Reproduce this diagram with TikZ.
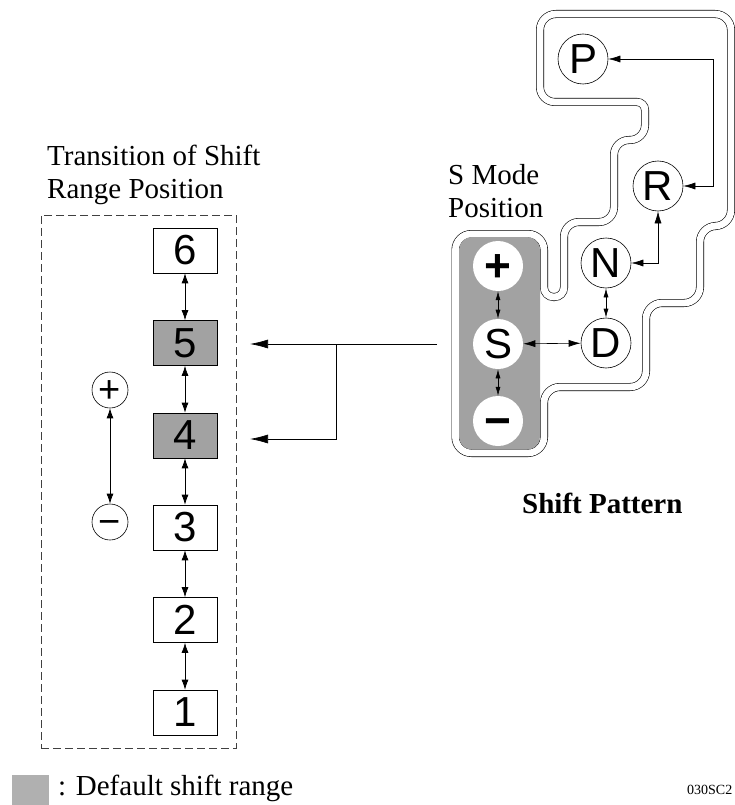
\documentclass[tikz,border=0pt]{standalone}
\usepackage{fontspec}
\setmainfont{Liberation Serif}
\newfontfamily\glyphfont{Liberation Sans}
\usetikzlibrary{arrows.meta}
\definecolor{stipple}{HTML}{A2A2A2}
\newcommand{\plusglyph}{\raisebox{-0.34em}[0pt][0pt]{+}}
\newcommand{\minusglyph}{\raisebox{-0.34em}[0pt][0pt]{\char"2212}}
\tikzset{
  x=1pt,y=-1pt,
  rangebox/.style={draw=black,line width=0.6pt,fill=white,minimum width=64pt,minimum height=45pt,inner sep=0pt,font=\glyphfont\fontsize{42}{42}\selectfont},
  graybox/.style={rangebox,fill=stipple},
  bigpos/.style={circle,draw=black,line width=0.6pt,fill=white,minimum size=50pt,inner sep=0pt,font=\glyphfont\fontsize{42}{42}\selectfont},
  signbig/.style={circle,draw=none,fill=white,minimum size=50pt,inner sep=0pt,font=\glyphfont\bfseries\fontsize{46}{46}\selectfont},
  smallpos/.style={circle,draw=black,line width=0.6pt,fill=white,minimum size=36pt,inner sep=0pt,font=\glyphfont\fontsize{38}{38}\selectfont},
  dbl/.style={{Latex[length=10pt,width=7pt]}-{Latex[length=10pt,width=7pt]},line width=0.7pt},
  dblfine/.style={{Latex[length=9pt,width=5pt]}-{Latex[length=9pt,width=5pt]},line width=0.6pt},
  patarrow/.style={{Latex[length=12pt,width=7pt]}-{Latex[length=12pt,width=7pt]},line width=0.6pt},
  longarrow/.style={-{Latex[length=18pt,width=9pt]},line width=0.7pt},
  caption/.style={inner sep=0pt,anchor=base west,font=\fontsize{29}{31}\selectfont},
  track/.style={draw=black,line width=0.6pt,double=white,double distance=6.8pt}
}
\begin{document}
\begin{tikzpicture}
\useasboundingbox (0,0) rectangle (734,805);
% captions
\node[caption] (t1) at (47,166) {Transition of Shift};
\node[caption] (t2) at (47,198) {Range Position};
\node[caption] (t3) at (448,185) {S Mode};
\node[caption] (t4) at (448,217) {Position};
\node[caption,font=\bfseries\fontsize{29}{31}\selectfont] (t5) at (522,513) {Shift Pattern};
\node[caption] (t6) at (58,795) {: Default shift range};
\node[caption,font=\fontsize{14}{16}\selectfont] (t7) at (687,794) {030SC2};
% legend swatch
\node[fill=stipple!85!white,minimum width=37pt,minimum height=30pt,inner sep=0pt] (swatch) at (30.5,790) {};
% dashed frame
\node[draw=black!75,line width=0.9pt,dash pattern=on 8pt off 4pt,minimum width=195pt,minimum height=533pt,inner sep=0pt] (frame) at (138.5,481.5) {};
% range boxes
\node[rangebox] (b6) at (185,250.5) {6};
\node[graybox] (b5) at (185,343) {5};
\node[graybox] (b4) at (185,435.5) {4};
\node[rangebox] (b3) at (185,527.5) {3};
\node[rangebox] (b2) at (185,620) {2};
\node[rangebox] (b1) at (185,712.5) {1};
\draw[dbl] (b6) -- (b5);
\draw[dbl] (b5) -- (b4);
\draw[dbl] (b4) -- (b3);
\draw[dbl] (b3) -- (b2);
\draw[dbl] (b2) -- (b1);
% plus minus
\node[smallpos] (up) at (110,390) {\plusglyph};
\node[smallpos] (dn) at (110,522) {\minusglyph};
\draw[dbl] (up) -- (dn);
% shift gate track
\draw[track] (540,60)
  [rounded corners=16] -- (540,14) -- (731,14) -- (731,226)
  -- (700,226) -- (700,303) -- (646,303) -- (646,387) -- (544,387)
  -- (544,453) -- (455.5,453) -- (455.5,234) -- (544,234)
  [rounded corners=9.5] -- (544,297) -- (564,297)
  [rounded corners=15] -- (564,222) -- (614,222) -- (614,140) -- (645,140)
  [rounded corners=8] -- (645,102)
  [rounded corners=15] -- (540,102) -- cycle;
% stippled field
\fill[stipple,rounded corners=13] (459,237) rectangle (540,449.5);
% positions
\node[bigpos] (P) at (583,59) {P};
\node[bigpos] (R) at (658,186) {R};
\node[bigpos] (N) at (606,263) {N};
\node[bigpos] (D) at (606,343) {D};
\node[signbig] (plus) at (498,266) {\plusglyph};
\node[bigpos,draw=none] (S) at (498,344) {S};
\node[signbig] (minus) at (498,421) {\minusglyph};
\coordinate (bend) at (713,120);
\draw[patarrow] (P.east) -- (P.east -| bend) -- (R.east -| bend) -- (R.east);
\draw[patarrow] (N.east) -| (R.south);
\draw[dblfine] (N) -- (D);
\draw[dblfine] (plus) -- (S);
\draw[dblfine] (S) -- (minus);
\draw[patarrow] (S) -- (D);
% transfer arrows
\coordinate (src) at (437,344);
\coordinate (to5) at (250,344);
\coordinate (fork) at (336,344);
\coordinate (to4) at (250,439);
\draw[longarrow] (src) -- (to5);
\draw[longarrow] (fork) |- (to4);
\end{tikzpicture}
\end{document}
